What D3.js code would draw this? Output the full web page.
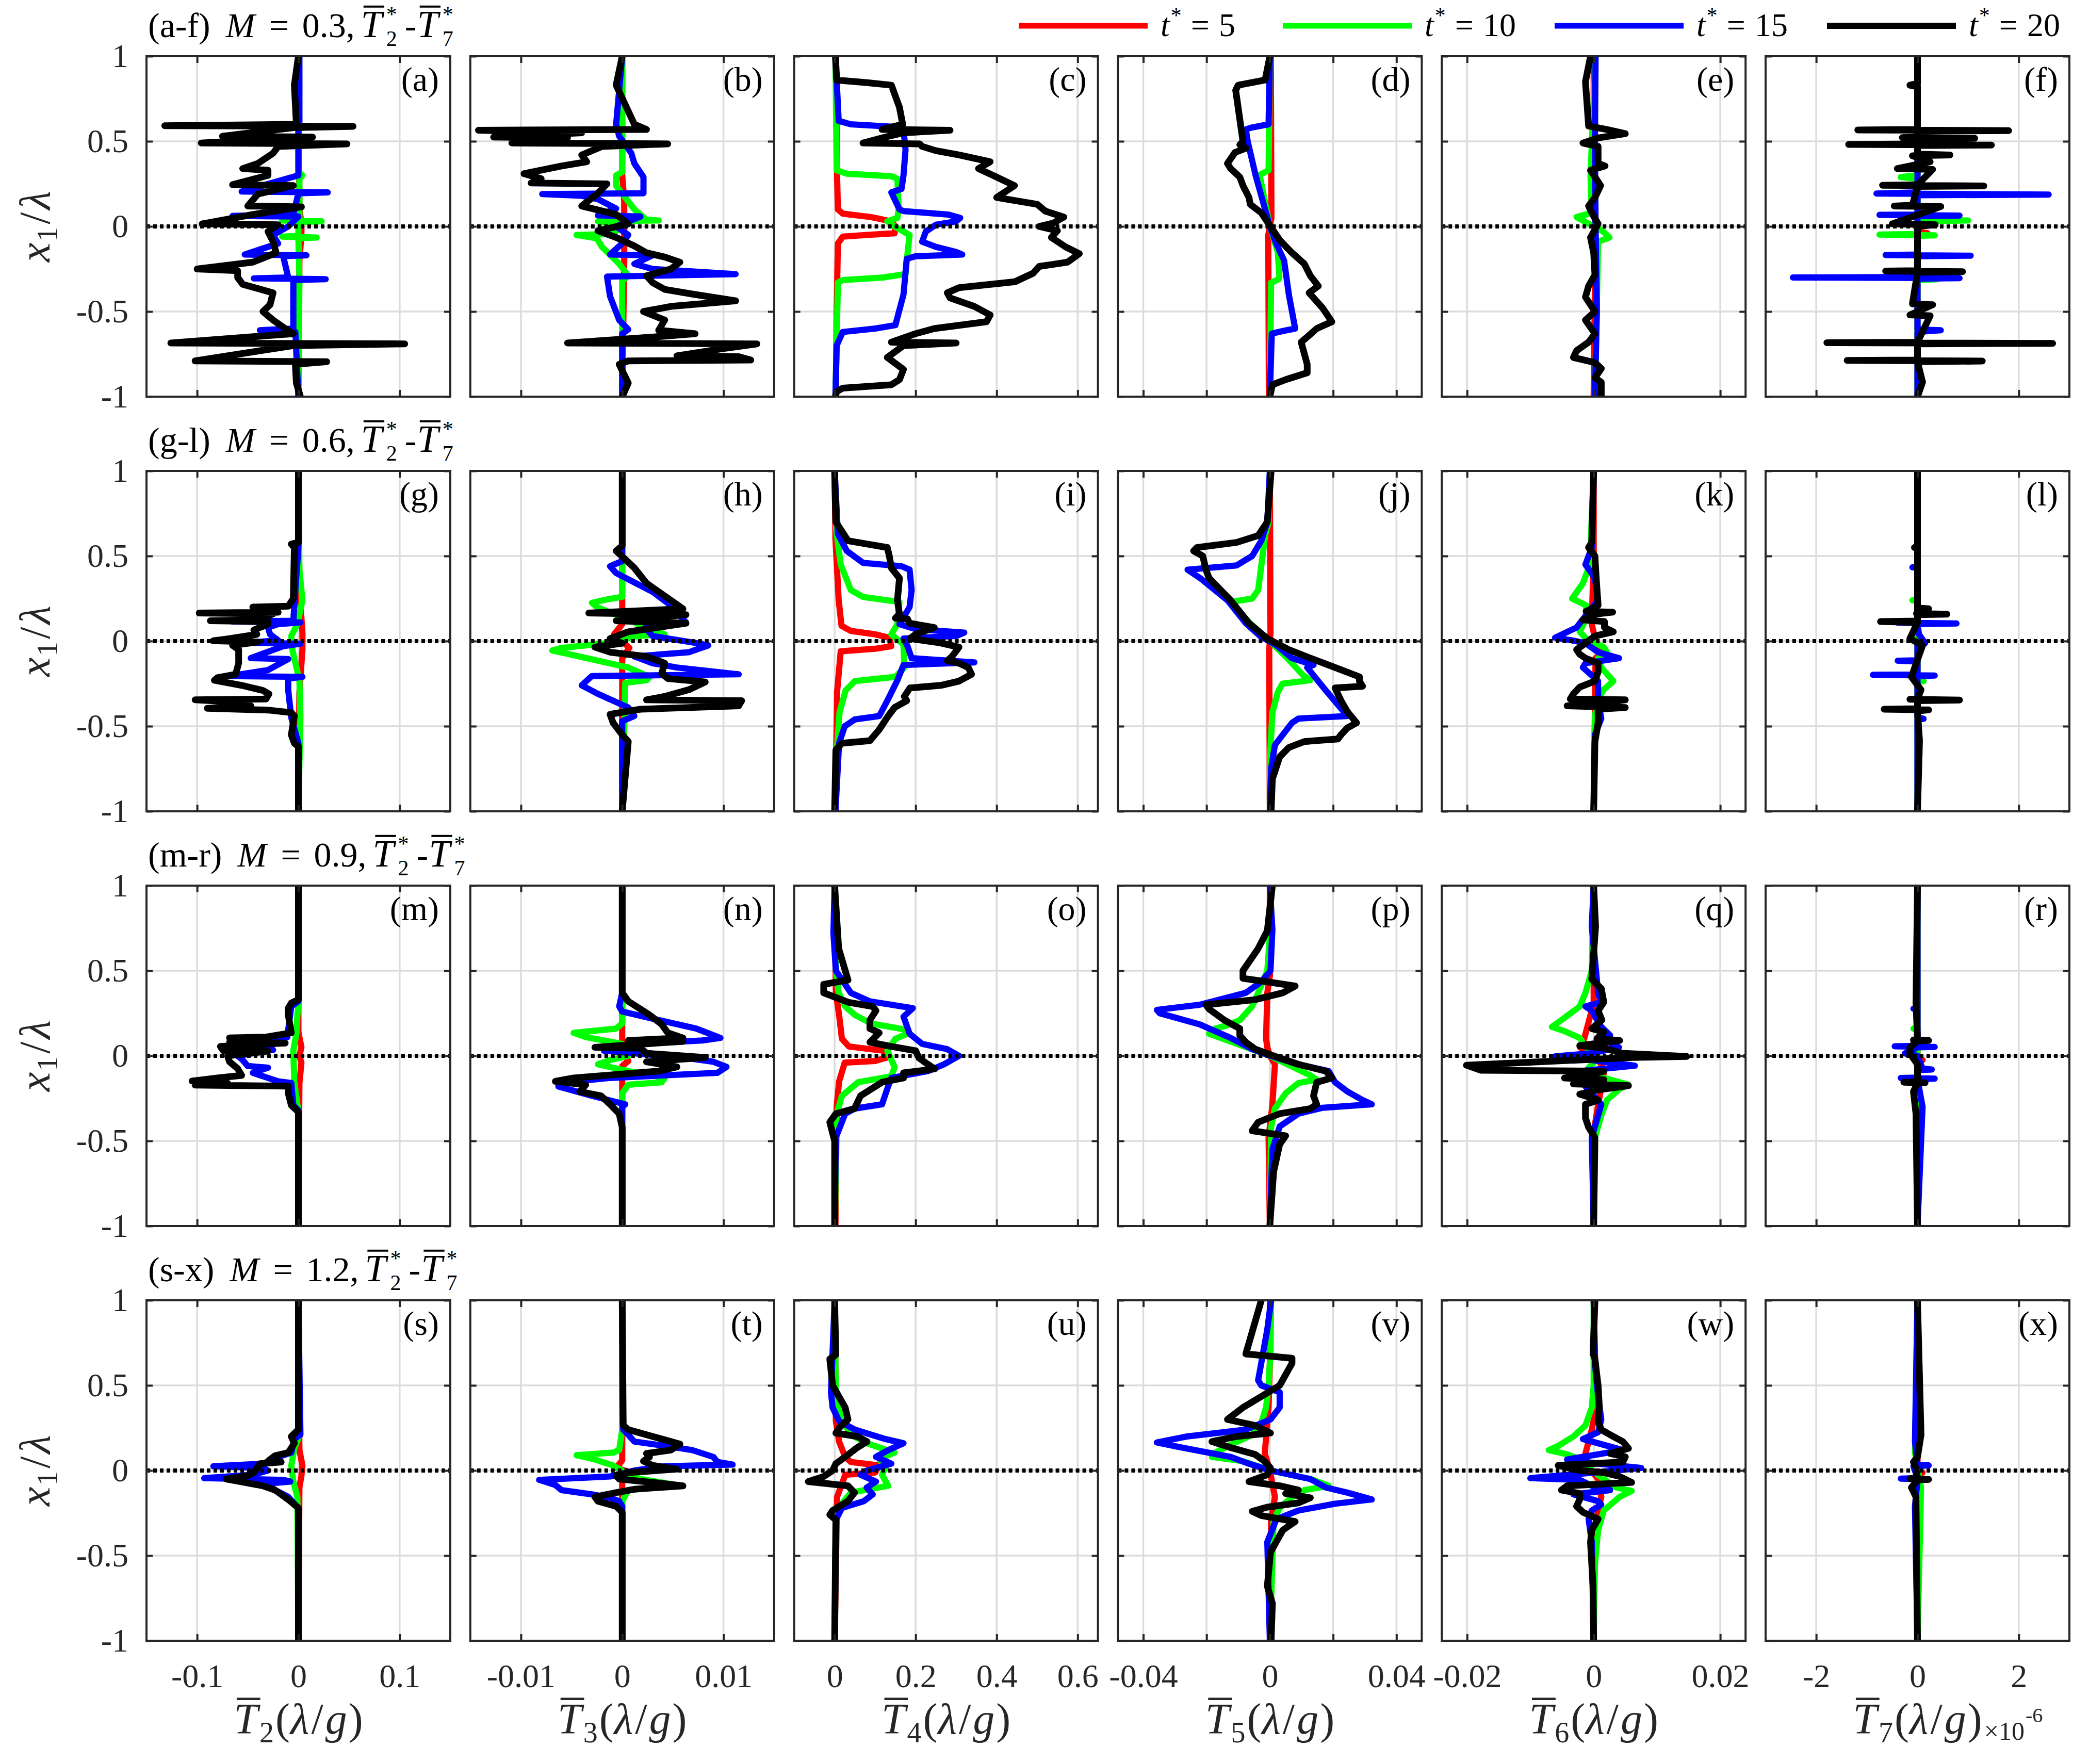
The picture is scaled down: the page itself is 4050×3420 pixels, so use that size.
<!DOCTYPE html>
<html><head><meta charset="utf-8">
<script src="https://cdn.jsdelivr.net/npm/d3@7"></script>
<style>
html,body{margin:0;padding:0;background:#fff;} svg{display:block;}
svg text { font-family: "Liberation Serif", "DejaVu Serif", serif; white-space: pre; }
</style>
</head><body>
<svg id="chart" width="4050" height="3420"></svg>
<script>
// ---------------- DATA ----------------
const seriesColors = ['#ff0000', '#00ff00', '#0000ff', '#000000'];
const seriesTimes = ['5', '10', '15', '20'];
const rowTags = ['(a-f)', '(g-l)', '(m-r)', '(s-x)'];
const rowMach = ['0.3', '0.6', '0.9', '1.2'];
const panelLetters = ['a','b','c','d','e','f','g','h','i','j','k','l','m','n','o','p','q','r','s','t','u','v','w','x'];
const colIndex = ['2', '3', '4', '5', '6', '7'];
const colDomains = [[-0.15, 0.15], [-0.015, 0.015], [-0.1, 0.65], [-0.048, 0.048], [-0.024, 0.024], [-3, 3]];
const colTicks = [[-0.1, 0, 0.1], [-0.01, 0, 0.01], [0, 0.2, 0.4, 0.6], [-0.04, -0.02, 0, 0.02, 0.04], [-0.02, 0, 0.02], [-2, 0, 2]];
const colTickLabels = [['-0.1', '0', '0.1'], ['-0.01', '0', '0.01'], ['0', '0.2', '0.4', '0.6'], ['-0.04', '', '0', '', '0.04'], ['-0.02', '0', '0.02'], ['-2', '0', '2']];
const yTicks = [-1, -0.5, 0, 0.5, 1];
const yTickLabels = ['-1', '-0.5', '0', '0.5', '1'];

// each panel: [red t*=5, green t*=10, blue t*=15, black t*=20]; points are [x1/lambda, value]
const P_a = [
 [[1,0],[0.1,0.001],[0.02,0.003],[-0.05,0.003],[-0.2,0.001],[-1,0]],
 [[1,0],[0.32,0],[0.3,0.004],[0.28,0.001],[0.04,0.001],[0.035,-0.016],[0.03,0.023],[0.025,0],[-0.055,0],[-0.06,-0.016],[-0.065,0.018],[-0.07,0],[-0.3,0.001],[-1,0]],
 [[1,0.001],[0.6,0.001],[0.595,-0.047],[0.59,0.011],[0.585,0],[0.3,0],[0.205,-0.056],[0.2,0.029],[0.195,0],[0.07,-0.005],[0.062,-0.065],[0.058,0],[0,-0.01],[-0.05,-0.025],[-0.1,-0.02],[-0.165,-0.053],[-0.17,0.008],[-0.175,-0.015],[-0.3,-0.01],[-0.305,-0.044],[-0.31,0.027],[-0.315,-0.005],[-0.6,-0.005],[-0.61,-0.038],[-0.62,-0.003],[-1,0]],
 [[1,0],[0.83,-0.004],[0.6,-0.002],[0.592,-0.132],[0.588,0.054],[0.58,-0.005],[0.53,-0.075],[0.525,0.014],[0.49,-0.096],[0.485,0.048],[0.47,-0.02],[0.43,-0.025],[0.37,-0.04],[0.34,-0.055],[0.33,-0.03],[0.3,-0.03],[0.245,-0.065],[0.24,-0.005],[0.19,-0.04],[0.12,-0.05],[0.115,0.003],[0.07,-0.045],[0.015,-0.095],[0.01,-0.02],[-0.03,-0.03],[-0.09,-0.025],[-0.155,-0.022],[-0.21,-0.045],[-0.25,-0.1],[-0.26,-0.06],[-0.3,-0.06],[-0.34,-0.055],[-0.39,-0.025],[-0.46,-0.028],[-0.5,-0.035],[-0.55,-0.025],[-0.6,-0.013],[-0.63,-0.005],[-0.685,-0.126],[-0.69,0.105],[-0.7,-0.005],[-0.79,-0.102],[-0.795,0.028],[-0.81,-0.003],[-0.92,-0.002],[-1,0.002]]
];
const P_b = [
 [[1,0],[0.3,0],[0.15,0.0002],[-0.2,0.0002],[-1,0]],
 [[1,0],[0.32,0],[0.3,-0.0006],[0.24,-0.0006],[0.1,0.0012],[0.04,0.0024],[0.035,0.0036],[0.03,-0.0024],[0,0],[-0.045,-0.001],[-0.05,-0.0045],[-0.07,-0.0025],[-0.12,-0.002],[-0.22,-0.0003],[-0.29,0.0006],[-0.32,0],[-1,0]],
 [[1,0],[0.6,-0.0006],[0.53,-0.0003],[0.43,0.0009],[0.37,0.0012],[0.29,0.0021],[0.21,0.0021],[0.195,0.0021],[0.19,-0.0079],[0.18,-0.004],[0.16,-0.0024],[0.105,-0.0006],[0.065,-0.0024],[0.058,0.0018],[0,-0.0006],[-0.05,0.0006],[-0.1,0],[-0.165,-0.0012],[-0.17,0.003],[-0.22,0.0012],[-0.25,0.003],[-0.28,0.0112],[-0.295,-0.0015],[-0.41,-0.0012],[-0.55,-0.0003],[-0.605,0.0006],[-0.63,0],[-1,0]],
 [[1,0],[0.83,-0.0006],[0.6,0.0012],[0.57,0.0024],[0.565,-0.0142],[0.55,-0.004],[0.525,-0.0127],[0.52,-0.0054],[0.49,-0.0109],[0.485,0.0045],[0.47,-0.002],[0.42,-0.004],[0.38,-0.0035],[0.355,-0.006],[0.31,-0.0097],[0.28,-0.008],[0.255,-0.009],[0.25,-0.0015],[0.19,-0.0025],[0.12,-0.004],[0.07,-0.0006],[0.015,0.0006],[-0.025,-0.0024],[-0.065,-0.0006],[-0.115,0.0012],[-0.155,0.0024],[-0.18,0.0042],[-0.21,0.0057],[-0.25,0.0048],[-0.29,0.0024],[-0.33,0.003],[-0.37,0.0042],[-0.4,0.0072],[-0.437,0.0112],[-0.47,0.0048],[-0.5,0.0021],[-0.55,0.0042],[-0.61,0.0036],[-0.63,0.0072],[-0.65,0.003],[-0.685,-0.0054],[-0.69,0.0133],[-0.72,0.0097],[-0.76,0.0054],[-0.765,0.0115],[-0.785,0.0127],[-0.79,0.0006],[-0.81,-0.0003],[-0.92,0.0006],[-1,0]]
];
const P_c = [
 [[1,0.003],[0.3,0.006],[0.1,0.008],[0.075,0.02],[0.055,0.09],[0.03,0.14],[0,0.15],[-0.04,0.148],[-0.05,0.08],[-0.06,0.02],[-0.1,0.008],[-0.5,0.005],[-1,0.003]],
 [[1,0.002],[0.33,0.005],[0.31,0.03],[0.295,0.14],[0.28,0.155],[0.1,0.158],[0.05,0.155],[0.03,0.13],[0,0.148],[-0.05,0.185],[-0.2,0.178],[-0.28,0.175],[-0.3,0.12],[-0.315,0.02],[-0.33,0.008],[-1,0.002]],
 [[1,0.002],[0.62,0.01],[0.6,0.04],[0.585,0.15],[0.57,0.17],[0.45,0.175],[0.3,0.17],[0.22,0.165],[0.2,0.14],[0.15,0.15],[0.1,0.16],[0.09,0.17],[0.07,0.28],[0.05,0.31],[0.03,0.3],[0.01,0.25],[-0.03,0.225],[-0.09,0.216],[-0.12,0.25],[-0.15,0.3],[-0.165,0.315],[-0.175,0.2],[-0.19,0.178],[-0.4,0.17],[-0.58,0.15],[-0.6,0.1],[-0.62,0.02],[-0.7,0.005],[-1,0.002]],
 [[1,0.002],[0.86,0.005],[0.845,0.08],[0.83,0.14],[0.7,0.16],[0.6,0.168],[0.57,0.117],[0.565,0.285],[0.55,0.17],[0.525,0.125],[0.49,0.07],[0.485,0.21],[0.47,0.216],[0.445,0.25],[0.42,0.307],[0.38,0.384],[0.34,0.355],[0.29,0.4],[0.24,0.444],[0.17,0.4],[0.13,0.5],[0.09,0.52],[0.055,0.566],[0.02,0.54],[0,0.505],[-0.025,0.55],[-0.065,0.535],[-0.12,0.57],[-0.16,0.604],[-0.21,0.575],[-0.235,0.505],[-0.275,0.49],[-0.325,0.445],[-0.36,0.307],[-0.39,0.278],[-0.42,0.285],[-0.47,0.345],[-0.52,0.384],[-0.56,0.375],[-0.6,0.246],[-0.63,0.2],[-0.68,0.14],[-0.685,0.3],[-0.7,0.17],[-0.77,0.13],[-0.84,0.17],[-0.9,0.16],[-0.93,0.14],[-0.95,0.02],[-0.97,0.005],[-1,0.002]]
];
const P_d = [
 [[1,0.0003],[0.05,0.0005],[0,0],[-0.05,-0.0005],[-1,-0.0003]],
 [[1,0],[0.33,-0.0004],[0.3,-0.0035],[0.28,-0.003],[0,0],[-0.15,0.0025],[-0.29,0.003],[-0.31,0.0028],[-0.33,0.0004],[-1,0]],
 [[1,0],[0.6,-0.0004],[0.58,-0.006],[0.57,-0.0076],[0.5,-0.007],[0.3,-0.0045],[0.1,-0.0015],[0,0],[-0.1,0.002],[-0.2,0.0045],[-0.4,0.006],[-0.6,0.008],[-0.615,0.004],[-0.63,0.0006],[-1,0]],
 [[1,0],[0.86,-0.0015],[0.83,-0.01],[0.8,-0.0108],[0.5,-0.0085],[0.48,-0.0095],[0.46,-0.0075],[0.435,-0.011],[0.37,-0.0134],[0.34,-0.0124],[0.29,-0.0095],[0.24,-0.0085],[0.17,-0.0066],[0.13,-0.0062],[0.08,-0.0027],[0,0.0002],[-0.08,0.0031],[-0.155,0.007],[-0.22,0.0109],[-0.29,0.0128],[-0.35,0.0153],[-0.39,0.0124],[-0.48,0.0167],[-0.56,0.0196],[-0.6,0.0148],[-0.64,0.0124],[-0.68,0.0099],[-0.81,0.0118],[-0.86,0.0118],[-0.9,0.005],[-0.93,0.0008],[-1,0]]
];
const P_e = [
 [[1,0],[0.1,0],[0,0.0003],[-1,0]],
 [[1,0.0003],[0.3,-0.0005],[0.08,-0.0003],[0.055,-0.0027],[0.03,-0.0015],[0,0],[-0.03,0.0015],[-0.065,0.0025],[-0.09,0.0007],[-1,0.0002]],
 [[1,0.0003],[0.5,0.0002],[0,0.0003],[-0.5,0.0005],[-1,0.0002]],
 [[1,-0.0005],[0.85,-0.0013],[0.59,-0.0008],[0.57,0.002],[0.545,0.005],[0.52,0.0007],[0.49,-0.0017],[0.47,0.0007],[0.37,0.0007],[0.355,0.0018],[0.33,-0.0005],[0.24,0.0011],[0.17,0.0002],[0.12,-0.0008],[0.08,-0.0003],[0.015,0.0007],[-0.065,-0.0005],[-0.155,0],[-0.285,0.0002],[-0.35,-0.0008],[-0.415,-0.0013],[-0.5,0.0002],[-0.55,-0.0013],[-0.63,0.0002],[-0.68,-0.0008],[-0.73,-0.0027],[-0.77,-0.0032],[-0.8,0.0002],[-0.835,0.0012],[-0.89,0.0002],[-0.915,0.0012],[-1,0.0012]]
];
const P_f = [
 [[1,0],[-0.03,0],[-0.04,0.2],[-0.05,0],[-1,0]],
 [[1,0],[0.3,0],[0.29,-0.33],[0.28,0],[0.04,0],[0.035,1.0],[0.03,0],[-0.045,0],[-0.048,-0.75],[-0.052,0.34],[-0.055,0],[-0.305,0],[-0.31,0.4],[-0.315,0],[-1,0]],
 [[1,0],[0.2,0],[0.193,-0.81],[0.187,2.59],[0.183,0],[0.07,0],[0.068,-0.75],[0.064,0.83],[0.06,0],[-0.165,0],[-0.168,-0.63],[-0.172,1.05],[-0.175,0],[-0.297,0],[-0.3,-2.46],[-0.304,0.83],[-0.307,0],[-0.605,0],[-0.61,0.46],[-0.62,0],[-1,0]],
 [[1,0],[0.84,0],[0.83,-0.15],[0.82,0],[0.57,0],[0.567,-1.18],[0.563,1.8],[0.56,0],[0.525,0],[0.522,-0.3],[0.518,1.13],[0.515,0],[0.485,0],[0.482,-1.36],[0.478,1.46],[0.475,0],[0.425,0],[0.42,0.64],[0.415,-0.1],[0.38,0.25],[0.34,-0.4],[0.335,0.3],[0.245,0],[0.242,-0.69],[0.238,1.31],[0.235,0],[0.125,-0.1],[0.12,-0.46],[0.117,0.46],[0.015,-0.5],[0.01,0.35],[0,0],[-0.26,0],[-0.262,-0.63],[-0.266,0.89],[-0.27,0],[-0.455,-0.1],[-0.46,0.3],[-0.52,-0.15],[-0.525,0.25],[-0.68,0],[-0.683,-1.79],[-0.687,2.67],[-0.69,0],[-0.785,0],[-0.787,-1.39],[-0.791,1.28],[-0.795,0],[-0.915,0.1],[-1,0]]
];
const P_g = [
 [[1,0],[0.3,0.001],[0.05,0.004],[-0.05,0.004],[-0.3,0.001],[-1,0]],
 [[1,0],[0.42,0.001],[0.24,0.004],[0.1,-0.001],[0.03,-0.007],[-0.05,-0.006],[-0.23,0.001],[-0.44,0.002],[-1,0]],
 [[1,0],[0.55,0],[0.3,-0.003],[0.12,-0.005],[0.115,-0.065],[0.11,0.002],[0.1,-0.02],[0.08,-0.03],[0.04,-0.028],[0.005,-0.02],[-0.01,-0.05],[-0.015,0.002],[-0.03,-0.015],[-0.1,-0.047],[-0.105,-0.01],[-0.17,-0.03],[-0.205,-0.068],[-0.21,0.004],[-0.22,-0.01],[-0.29,-0.01],[-0.45,-0.007],[-0.6,0],[-1,0]],
 [[1,0],[0.58,0],[0.57,-0.007],[0.55,-0.004],[0.25,-0.005],[0.205,-0.01],[0.2,-0.045],[0.17,-0.02],[0.165,-0.098],[0.16,-0.025],[0.125,-0.04],[0.12,-0.087],[0.115,-0.03],[0.1,-0.03],[0.065,-0.044],[0.04,-0.041],[0.015,-0.068],[0.002,-0.084],[-0.005,-0.04],[-0.025,-0.065],[-0.05,-0.059],[-0.13,-0.059],[-0.195,-0.062],[-0.215,-0.08],[-0.23,-0.083],[-0.26,-0.056],[-0.29,-0.035],[-0.31,-0.029],[-0.34,-0.032],[-0.345,-0.102],[-0.36,-0.056],[-0.38,-0.047],[-0.395,-0.09],[-0.405,-0.03],[-0.42,-0.007],[-0.44,-0.004],[-0.55,-0.007],[-0.6,-0.004],[-0.62,0],[-1,0]]
];
const P_h = [
 [[1,0],[0.1,0],[0.04,-0.0008],[0,0],[-0.04,0.0007],[-0.1,0],[-1,0]],
 [[1,0],[0.26,0],[0.245,-0.0015],[0.225,-0.003],[0.2,-0.0025],[0.14,0],[0.08,0.0024],[0.04,0.0042],[0.03,0.0015],[-0.01,-0.0012],[-0.04,-0.006],[-0.055,-0.0069],[-0.08,-0.005],[-0.155,0.0006],[-0.21,0.0027],[-0.23,0.0024],[-0.245,0.0003],[-1,0]],
 [[1,0],[0.47,0],[0.44,-0.0012],[0.4,-0.0006],[0.29,0.003],[0.21,0.0048],[0.11,0.0063],[0.1,0.0024],[0.07,0.0024],[0.03,0.003],[-0.01,0.0072],[-0.025,0.0085],[-0.065,0.0066],[-0.09,0.0012],[-0.13,0.003],[-0.155,0.0054],[-0.195,0.0115],[-0.205,-0.003],[-0.26,-0.004],[-0.31,-0.0024],[-0.39,0.0006],[-0.44,0.0012],[-0.47,0],[-1,0]],
 [[1,0],[0.56,0],[0.53,-0.0006],[0.43,0.0012],[0.34,0.0024],[0.24,0.0048],[0.19,0.006],[0.165,-0.0033],[0.155,0.0063],[0.12,-0.0006],[0.105,0.0063],[0.055,0.0006],[0.015,-0.0012],[-0.012,0],[-0.035,-0.0027],[-0.065,-0.0012],[-0.09,0.0024],[-0.13,0.0042],[-0.19,0.0039],[-0.22,0.0045],[-0.24,0.0082],[-0.285,0.0066],[-0.325,0.0042],[-0.345,0.0024],[-0.35,0.0118],[-0.38,0.0115],[-0.4,0.0018],[-0.43,-0.0012],[-0.48,-0.0009],[-0.55,0],[-0.59,0.0006],[-1,0]]
];
const P_i = [
 [[1,0],[0.6,0.002],[0.24,0.01],[0.09,0.017],[0.06,0.04],[0.04,0.1],[0.02,0.135],[-0.03,0.14],[-0.045,0.1],[-0.06,0.015],[-0.3,0.006],[-1,0.002]],
 [[1,0],[0.65,0.004],[0.45,0.015],[0.3,0.04],[0.26,0.07],[0.23,0.16],[0.1,0.155],[0.04,0.14],[-0.02,0.17],[-0.155,0.172],[-0.21,0.15],[-0.235,0.05],[-0.29,0.027],[-0.42,0.012],[-0.7,0.004],[-1,0.002]],
 [[1,0],[0.63,0.008],[0.53,0.03],[0.46,0.07],[0.44,0.165],[0.42,0.185],[0.3,0.19],[0.2,0.185],[0.1,0.16],[0.07,0.2],[0.05,0.32],[0.03,0.3],[0.015,0.17],[-0.03,0.18],[-0.1,0.19],[-0.125,0.345],[-0.14,0.17],[-0.23,0.155],[-0.35,0.13],[-0.44,0.11],[-0.46,0.05],[-0.5,0.025],[-0.6,0.011],[-1,0.002]],
 [[1,0],[0.7,0.003],[0.59,0.033],[0.565,0.094],[0.55,0.13],[0.5,0.135],[0.43,0.14],[0.37,0.16],[0.24,0.155],[0.16,0.16],[0.135,0.15],[0.13,0.18],[0.105,0.185],[0.08,0.246],[0.04,0.2],[0.015,0.186],[-0.01,0.26],[-0.035,0.307],[-0.09,0.29],[-0.115,0.278],[-0.13,0.307],[-0.155,0.33],[-0.195,0.338],[-0.235,0.307],[-0.26,0.262],[-0.275,0.186],[-0.325,0.172],[-0.35,0.178],[-0.39,0.148],[-0.44,0.132],[-0.52,0.11],[-0.585,0.087],[-0.6,0.018],[-0.64,0.003],[-1,0]]
];
const P_j = [
 [[1,0],[0.05,0.0002],[-0.05,-0.0002],[-1,0]],
 [[1,0],[0.7,-0.0004],[0.63,-0.0014],[0.5,-0.0023],[0.3,-0.0037],[0.25,-0.0056],[0.23,-0.0124],[0.1,-0.006],[0,0],[-0.1,0.0055],[-0.2,0.0105],[-0.23,0.0128],[-0.25,0.004],[-0.3,0.0025],[-0.42,0.0008],[-0.7,0],[-1,0]],
 [[1,0],[0.7,-0.0008],[0.59,-0.0027],[0.5,-0.0056],[0.445,-0.0105],[0.42,-0.026],[0.37,-0.022],[0.24,-0.0134],[0.105,-0.0076],[0.03,-0.0031],[-0.025,0.0021],[-0.1,0.007],[-0.14,0.0138],[-0.155,0.0118],[-0.29,0.0177],[-0.44,0.0245],[-0.455,0.009],[-0.48,0.007],[-0.61,0.0016],[-0.75,0.0004],[-1,0]],
 [[1,0.0004],[0.7,-0.0008],[0.62,-0.0037],[0.58,-0.0105],[0.55,-0.023],[0.53,-0.0241],[0.5,-0.0212],[0.42,-0.0202],[0.37,-0.0192],[0.24,-0.0124],[0.105,-0.0066],[0.015,-0.0008],[-0.05,0.006],[-0.1,0.0128],[-0.155,0.0206],[-0.21,0.0283],[-0.235,0.0283],[-0.265,0.0293],[-0.275,0.0206],[-0.35,0.0225],[-0.415,0.0245],[-0.48,0.0274],[-0.51,0.0245],[-0.55,0.0225],[-0.575,0.0215],[-0.59,0.0109],[-0.625,0.006],[-0.68,0.0031],[-0.81,0.0008],[-1,0.0004]]
];
const P_k = [
 [[1,0],[0.5,0],[0.1,-0.0003],[-0.03,0.0005],[-0.06,0.0016],[-0.1,0.0003],[-1,0]],
 [[1,0],[0.45,-0.0006],[0.34,-0.0017],[0.25,-0.0034],[0.21,-0.0012],[0.13,-0.0012],[0.055,-0.0022],[0.015,-0.0012],[-0.035,0.0016],[-0.065,0.0021],[-0.1,0.0007],[-0.155,0.0012],[-0.235,0.0031],[-0.285,0.0016],[-0.34,0.0007],[-0.44,0.0002],[-1,0]],
 [[1,0],[0.55,-0.0003],[0.45,-0.0013],[0.37,0.0002],[0.24,0.0007],[0.105,-0.0022],[0.08,-0.0027],[0.02,-0.0061],[0.005,-0.0035],[-0.012,-0.0013],[-0.065,0.0007],[-0.1,0.004],[-0.13,-0.0013],[-0.155,-0.0017],[-0.235,0.0007],[-0.35,0.0007],[-0.455,0.0012],[-0.55,0.0002],[-1,0]],
 [[1,0],[0.58,-0.0003],[0.55,-0.0008],[0.5,0.0002],[0.37,0.0004],[0.21,0.0007],[0.175,-0.0012],[0.17,0.003],[0.16,0.0005],[0.125,-0.0017],[0.115,0.0017],[0.08,0.0017],[0.055,0.0031],[0.03,0.0002],[-0.012,-0.0013],[-0.05,-0.0027],[-0.077,-0.0022],[-0.1,-0.0013],[-0.13,0.0007],[-0.18,0.0007],[-0.235,0.0002],[-0.27,-0.0022],[-0.31,-0.0032],[-0.34,-0.0037],[-0.345,0.005],[-0.36,0.002],[-0.38,-0.0042],[-0.39,0.005],[-0.4,0.0007],[-0.48,0.0007],[-0.59,0.0002],[-1,0]]
];
const P_l = [
 [[1,0],[-1,0]],
 [[1,0],[0.245,0],[0.24,-0.1],[0.235,0],[-0.23,0],[-0.234,0.12],[-0.24,0],[-1,0]],
 [[1,0],[0.44,0],[0.434,-0.1],[0.43,0],[0.11,0],[0.108,-0.39],[0.104,0.77],[0.1,0],[0.04,0.03],[-0.012,0.15],[-0.02,0],[-0.113,0],[-0.115,-0.39],[-0.12,0],[-0.196,0],[-0.198,-0.88],[-0.202,0.34],[-0.205,0],[-0.45,0],[-0.456,0.12],[-0.46,0],[-1,0]],
 [[1,0],[0.555,0],[0.55,-0.06],[0.545,0],[0.195,0],[0.19,0.22],[0.185,0],[0.165,0],[0.162,-0.02],[0.158,0.58],[0.155,0],[0.118,0],[0.115,-0.73],[0.11,0],[0.015,-0.15],[-0.025,0.1],[-0.21,-0.12],[-0.286,0.07],[-0.34,0],[-0.342,-0.15],[-0.346,0.83],[-0.35,0],[-0.397,0],[-0.4,-0.66],[-0.404,0.22],[-0.41,0],[-0.585,0.04],[-1,0]]
];
const P_m = [
 [[1,0],[0.14,0],[0.05,0.003],[0,0.001],[-0.04,0.003],[-0.16,0.001],[-1,0]],
 [[1,0],[0.3,0],[0.24,-0.001],[0.13,-0.002],[0.03,-0.005],[-0.155,-0.004],[-0.29,-0.001],[-0.32,0],[-1,0]],
 [[1,0],[0.32,0],[0.29,-0.007],[0.11,-0.011],[0.09,-0.04],[0.08,-0.035],[0.04,-0.045],[0.035,-0.025],[0,-0.06],[-0.025,-0.055],[-0.06,-0.05],[-0.07,-0.03],[-0.1,-0.045],[-0.13,-0.03],[-0.15,-0.02],[-0.16,-0.007],[-0.29,-0.005],[-0.32,0],[-1,0]],
 [[1,0],[0.33,0],[0.31,-0.007],[0.28,-0.01],[0.24,-0.01],[0.135,-0.007],[0.11,-0.032],[0.105,-0.068],[0.09,-0.035],[0.08,-0.068],[0.075,-0.013],[0.055,-0.077],[0.03,-0.074],[0.028,-0.03],[0,-0.07],[-0.035,-0.068],[-0.075,-0.06],[-0.115,-0.056],[-0.13,-0.08],[-0.148,-0.105],[-0.16,-0.07],[-0.172,-0.102],[-0.178,-0.01],[-0.22,-0.01],[-0.29,-0.007],[-0.33,0],[-1,0]]
];
const P_n = [
 [[1,0],[0.05,0],[0,0.0003],[-0.03,0.0006],[-0.06,0],[-1,0]],
 [[1,0],[0.19,0],[0.16,-0.0006],[0.135,-0.0048],[0.11,-0.0036],[0.07,0],[0,0.0006],[-0.025,-0.0012],[-0.05,-0.0024],[-0.09,0.0006],[-0.13,0.0042],[-0.155,0.0039],[-0.17,0.0006],[-0.22,0],[-1,0]],
 [[1,0],[0.37,0],[0.29,-0.0003],[0.26,0],[0.21,0.0036],[0.16,0.0073],[0.105,0.0097],[0.09,0.0079],[0.07,0.0012],[0.055,0],[0.03,-0.0018],[-0.01,0.006],[-0.035,0.009],[-0.065,0.0103],[-0.1,0.0094],[-0.13,-0.0012],[-0.155,-0.0054],[-0.18,-0.0063],[-0.235,-0.003],[-0.285,0.0003],[-0.3,0],[-1,0]],
 [[1,0],[0.37,0],[0.32,0.0006],[0.24,0.0027],[0.185,0.0039],[0.135,0.0045],[0.105,0.006],[0.09,0.0006],[0.085,0.006],[0.05,-0.0027],[0.045,0.0018],[0.015,0.0024],[-0.01,0.0082],[-0.035,0.0024],[-0.065,0.0054],[-0.09,0.0036],[-0.13,-0.0048],[-0.15,-0.0066],[-0.17,-0.0036],[-0.21,-0.0042],[-0.235,-0.0021],[-0.285,-0.0012],[-0.34,-0.0003],[-0.42,0],[-1,0]]
];
const P_o = [
 [[1,0],[0.37,0.003],[0.24,0.011],[0.1,0.018],[0.055,0.035],[0.03,0.12],[-0.01,0.13],[-0.03,0.1],[-0.04,0.025],[-0.15,0.011],[-0.3,0.005],[-1,0.002]],
 [[1,0],[0.5,0.003],[0.37,0.01],[0.29,0.026],[0.24,0.05],[0.19,0.09],[0.165,0.15],[0.15,0.18],[0.13,0.18],[0.1,0.15],[0.03,0.13],[-0.065,0.148],[-0.12,0.14],[-0.155,0.058],[-0.235,0.018],[-0.35,0.004],[-1,0.001]],
 [[1,0],[0.72,-0.003],[0.5,0.003],[0.37,0.04],[0.32,0.087],[0.28,0.193],[0.23,0.17],[0.13,0.185],[0.07,0.216],[0.04,0.277],[0,0.307],[-0.05,0.27],[-0.09,0.23],[-0.13,0.14],[-0.18,0.132],[-0.285,0.117],[-0.31,0.05],[-0.34,0.026],[-0.48,0.003],[-1,0]],
 [[1,0],[0.63,0.01],[0.445,0.033],[0.42,-0.027],[0.37,-0.027],[0.315,0.033],[0.29,0.094],[0.265,0.102],[0.21,0.087],[0.16,0.087],[0.135,0.11],[0.08,0.087],[0.055,0.14],[0.03,0.2],[-0.012,0.208],[-0.05,0.23],[-0.077,0.247],[-0.1,0.17],[-0.13,0.17],[-0.155,0.117],[-0.235,0.064],[-0.31,0.049],[-0.34,0.003],[-0.39,-0.012],[-0.455,-0.005],[-0.5,0],[-1,0]]
];
const P_p = [
 [[1,0],[0.47,0],[0.37,-0.0008],[0.1,-0.0012],[0.05,-0.0008],[0,0],[-0.05,0.0016],[-0.29,0.0008],[-0.48,-0.0004],[-1,0]],
 [[1,0],[0.76,0.0002],[0.5,-0.0008],[0.37,-0.0037],[0.29,-0.0056],[0.21,-0.0095],[0.18,-0.0134],[0.16,-0.0173],[0.13,-0.0192],[0,0],[-0.115,0.0128],[-0.14,0.0148],[-0.16,0.009],[-0.22,0.005],[-0.31,0.0016],[-0.42,0.0004],[-1,0]],
 [[1,0],[0.74,0.0008],[0.5,0.0002],[0.435,-0.0027],[0.37,-0.0076],[0.3,-0.0222],[0.27,-0.0357],[0.25,-0.0348],[0.185,-0.0222],[0.105,-0.0124],[0.04,-0.0056],[0,0.0002],[-0.05,0.0089],[-0.09,0.0186],[-0.155,0.0206],[-0.21,0.0245],[-0.26,0.0293],[-0.285,0.0322],[-0.305,0.0167],[-0.34,0.009],[-0.415,0.0031],[-0.55,0.0008],[-1,0]],
 [[1,0.0008],[0.735,-0.0008],[0.63,-0.0037],[0.5,-0.0085],[0.455,-0.0085],[0.435,-0.0008],[0.41,0.008],[0.37,0.0041],[0.33,-0.0047],[0.3,-0.0202],[0.275,-0.0192],[0.21,-0.0144],[0.16,-0.0095],[0.12,-0.0095],[0.08,-0.0076],[0.04,-0.0047],[0,0.0012],[-0.05,0.009],[-0.09,0.0177],[-0.13,0.0196],[-0.155,0.0148],[-0.235,0.0138],[-0.285,0.0148],[-0.31,0.0128],[-0.34,0.0031],[-0.39,-0.0037],[-0.44,-0.0056],[-0.47,0.005],[-0.52,0.0031],[-0.68,0.0012],[-0.94,0.0002],[-1,0]]
];
const P_q = [
 [[1,0],[0.3,0],[0.24,-0.0005],[0.1,-0.0015],[0.05,-0.0022],[0,0],[-0.05,0.0012],[-0.1,0.0016],[-0.29,0.0007],[-0.45,0],[-1,0]],
 [[1,0],[0.5,-0.0003],[0.37,-0.0013],[0.29,-0.0022],[0.21,-0.0051],[0.17,-0.0066],[0.145,-0.0046],[0.105,-0.0022],[0.055,-0.0013],[-0.012,0.0007],[-0.09,-0.0013],[-0.13,0.0016],[-0.17,0.0055],[-0.195,0.0041],[-0.26,0.0021],[-0.35,0.0012],[-0.48,0.0002],[-1,0]],
 [[1,0],[0.76,-0.0003],[0.37,0.0007],[0.315,0.0012],[0.29,-0.0013],[0.265,-0.0003],[0.17,0.0012],[0.12,0.0026],[0.095,0.0016],[0.05,0.004],[0.015,-0.0003],[-0.003,-0.0061],[-0.025,-0.0003],[-0.058,0.0065],[-0.09,-0.0022],[-0.12,-0.0022],[-0.18,-0.0013],[-0.285,0.0012],[-0.48,-0.0003],[-1,0]],
 [[1,0],[0.76,0.0003],[0.45,-0.0003],[0.395,0.0012],[0.315,0.0016],[0.265,0.0007],[0.21,0.0013],[0.16,-0.0003],[0.14,0.0016],[0.1,0.0005],[0.09,0.0041],[0.06,-0.0022],[0.045,0.0017],[0.015,0.0045],[-0.004,0.0147],[-0.01,0.006],[-0.055,-0.0201],[-0.085,-0.0178],[-0.09,0.0016],[-0.1,0.0007],[-0.13,-0.0046],[-0.14,0.0016],[-0.165,-0.0032],[-0.175,0.0055],[-0.2,0.0007],[-0.225,-0.0022],[-0.26,0.0007],[-0.285,-0.0013],[-0.365,-0.0013],[-0.42,-0.0008],[-0.48,0.0002],[-1,0]]
];
const P_r = [
 [[1,0],[-0.02,0],[-0.025,0.1],[-0.03,0],[-1,0]],
 [[1,0],[0.165,0],[0.16,-0.08],[0.155,0],[-1,0]],
 [[1,0],[0.28,0],[0.277,-0.08],[0.273,0],[0.058,0],[0.056,-0.45],[0.052,0.34],[0.05,0],[0.014,-0.25],[0,0],[-0.075,0.1],[-0.08,0.28],[-0.085,0],[-0.128,0],[-0.13,-0.33],[-0.134,0.34],[-0.137,0],[-0.3,0.1],[-1,0]],
 [[1,0],[0.31,-0.03],[0.095,0],[0.093,-0.08],[0.09,0.22],[0.087,0],[0.05,-0.15],[0.014,-0.15],[-0.05,0],[-0.152,0],[-0.155,-0.27],[-0.158,0.15],[-0.16,0],[-0.21,-0.08],[-0.34,-0.03],[-1,0]]
];
const P_s = [
 [[1,0],[0.12,0.001],[0.03,0.004],[-0.03,0.003],[-0.1,0.001],[-1,0]],
 [[1,0],[0.19,0],[0.13,-0.004],[0.03,-0.007],[-0.065,-0.005],[-0.155,-0.001],[-1,0]],
 [[1,0],[0.21,0.002],[0.185,-0.004],[0.105,-0.007],[0.08,-0.02],[0.04,-0.035],[0.025,-0.084],[0.015,-0.035],[0,-0.03],[-0.025,-0.045],[-0.045,-0.093],[-0.055,-0.015],[-0.065,-0.008],[-0.077,-0.032],[-0.115,-0.023],[-0.155,-0.01],[-0.195,-0.004],[-0.22,0],[-1,0]],
 [[1,0],[0.24,0],[0.2,-0.007],[0.16,-0.004],[0.105,-0.01],[0.087,-0.023],[0.06,-0.029],[0.05,-0.017],[0.04,-0.038],[0.015,-0.041],[-0.012,-0.044],[-0.03,-0.05],[-0.05,-0.071],[-0.07,-0.053],[-0.09,-0.035],[-0.115,-0.023],[-0.14,-0.017],[-0.18,-0.008],[-0.22,0],[-1,0]]
];
const P_t = [
 [[1,0],[0.06,0],[0.015,-0.0006],[-0.012,0.0009],[-0.05,0],[-1,0]],
 [[1,0],[0.24,0],[0.12,-0.0003],[0.105,-0.0009],[0.09,-0.0045],[0.07,-0.003],[0.03,-0.0009],[-0.012,0.0003],[-0.05,0.0018],[-0.085,0.0054],[-0.115,0.0006],[-0.18,0],[-1,0]],
 [[1,0],[0.24,0.0001],[0.21,0.0006],[0.17,0.0012],[0.145,0.0042],[0.12,0.0069],[0.08,0.009],[0.05,0.0094],[0.035,0.0109],[0.025,0.0042],[0,0.0012],[-0.035,-0.0012],[-0.055,-0.0082],[-0.085,-0.0066],[-0.115,-0.006],[-0.14,-0.003],[-0.16,-0.0012],[-0.18,-0.0003],[-0.21,0],[-1,0]],
 [[1,0],[0.265,0.0001],[0.24,0.0006],[0.2,0.003],[0.155,0.0057],[0.12,0.0048],[0.1,0.0024],[0.08,0.0027],[0.055,0.0021],[0.03,0.003],[0.008,0.0054],[-0.012,0.0006],[-0.03,-0.0006],[-0.05,-0.0003],[-0.07,0.003],[-0.09,0.006],[-0.11,0.0012],[-0.13,-0.0006],[-0.155,-0.0027],[-0.18,-0.0024],[-0.21,-0.0006],[-0.245,0],[-1,0]]
];
const P_u = [
 [[1,0],[0.29,0.003],[0.17,0.011],[0.08,0.026],[0.05,0.04],[0.03,0.11],[-0.012,0.1],[-0.025,0.026],[-0.08,0.018],[-0.155,0.006],[-1,0]],
 [[1,0],[0.43,0.003],[0.3,0.018],[0.21,0.04],[0.16,0.08],[0.105,0.148],[0.07,0.11],[0.015,0.125],[-0.025,0.117],[-0.09,0.132],[-0.13,0.04],[-0.195,0.018],[-0.29,0.003],[-1,0]],
 [[1,0],[0.46,-0.009],[0.37,-0.005],[0.29,0.011],[0.24,0.05],[0.185,0.125],[0.16,0.17],[0.12,0.132],[0.08,0.102],[0.04,0.14],[0,0.079],[-0.025,0.064],[-0.065,0.102],[-0.1,0.079],[-0.14,0.094],[-0.18,0.072],[-0.22,0.018],[-0.29,0.003],[-1,0]],
 [[1,0],[0.68,0.003],[0.655,-0.012],[0.5,-0.005],[0.37,0.026],[0.3,0.033],[0.25,0.011],[0.22,0.003],[0.2,0.056],[0.17,0.08],[0.135,0.056],[0.08,0.026],[0.04,0.003],[0,-0.005],[-0.035,-0.027],[-0.065,-0.065],[-0.09,0.033],[-0.13,0.049],[-0.18,0.033],[-0.235,-0.005],[-0.26,-0.012],[-0.29,0.003],[-1,0]]
];
const P_v = [
 [[1,0],[0.63,0],[0.37,-0.0004],[0.1,-0.0016],[0,0],[-0.155,0.0016],[-0.29,0.0004],[-1,0]],
 [[1,0.0004],[0.7,0.0002],[0.5,-0.0004],[0.37,-0.0012],[0.28,-0.0027],[0.21,-0.0056],[0.16,-0.0114],[0.105,-0.0173],[0.08,-0.0183],[0.055,-0.0085],[0,0.0002],[-0.05,0.0128],[-0.09,0.0186],[-0.115,0.0109],[-0.155,0.007],[-0.22,0.0031],[-0.29,0.0012],[-1,0]],
 [[1,0.0004],[0.83,-0.0008],[0.53,-0.0037],[0.5,-0.0027],[0.46,0.0031],[0.37,0.0031],[0.3,0.0002],[0.24,-0.0076],[0.2,-0.0262],[0.165,-0.0357],[0.135,-0.0279],[0.08,-0.0124],[0.04,-0.0066],[0,0.0002],[-0.05,0.0128],[-0.1,0.0177],[-0.13,0.0245],[-0.17,0.0322],[-0.195,0.0206],[-0.235,0.009],[-0.285,0.0021],[-0.42,-0.0008],[-1,0]],
 [[1,-0.0027],[0.685,-0.0076],[0.66,0.007],[0.63,0.007],[0.5,0.0031],[0.435,-0.0027],[0.37,-0.0085],[0.3,-0.0134],[0.265,-0.0047],[0.22,0.0002],[0.2,-0.0105],[0.17,-0.0183],[0.135,-0.0124],[0.095,-0.0047],[0.055,-0.0017],[0.015,0.0002],[-0.025,-0.0008],[-0.065,-0.0066],[-0.09,0.0031],[-0.115,0.009],[-0.135,0.005],[-0.16,0.0128],[-0.19,0.009],[-0.215,-0.0008],[-0.24,-0.0056],[-0.265,-0.0027],[-0.3,0.008],[-0.35,0.0041],[-0.48,0.0002],[-0.68,-0.0008],[-0.78,0.0008],[-1,0.0004]]
];
const P_w = [
 [[1,0],[0.37,0.0004],[0.24,-0.0003],[0.1,-0.0013],[0.03,-0.001],[-0.05,0.0007],[-0.155,0.0012],[-0.235,0.0007],[-0.4,0],[-1,0]],
 [[1,0],[0.5,0],[0.37,-0.0003],[0.265,-0.0013],[0.2,-0.0032],[0.145,-0.0056],[0.12,-0.0071],[0.095,-0.0042],[0.055,-0.0013],[0,-0.0003],[-0.05,0.0016],[-0.1,0.0036],[-0.12,0.006],[-0.155,0.0041],[-0.235,0.0016],[-0.35,0.0007],[-0.55,0.0002],[-1,0]],
 [[1,0],[0.63,0.0002],[0.435,0.0007],[0.3,0.0012],[0.225,0.0007],[0.185,-0.0017],[0.155,0.0012],[0.12,0.0046],[0.095,0.0007],[0.065,-0.0042],[0.04,0.0007],[0.015,0.0075],[-0.01,0.0007],[-0.045,-0.01],[-0.055,-0.0022],[-0.09,-0.0003],[-0.115,0.0026],[-0.14,-0.0032],[-0.18,0.0007],[-0.2,0.0012],[-0.235,-0.0003],[-0.285,-0.0008],[-0.42,-0.0003],[-1,0]],
 [[1,0.0002],[0.685,-0.0001],[0.655,0.0002],[0.5,0.0007],[0.37,0.0009],[0.29,0.0007],[0.24,0.0012],[0.21,0.0026],[0.17,0.0046],[0.13,0.0055],[0.1,0.0026],[0.08,0.005],[0.05,0.0046],[0.03,-0.0056],[0,-0.0022],[-0.012,0.0016],[-0.035,0.0041],[-0.07,0.006],[-0.09,-0.0042],[-0.115,-0.0051],[-0.135,-0.0022],[-0.17,-0.0022],[-0.21,-0.0027],[-0.245,-0.0017],[-0.285,0.0007],[-0.35,-0.0003],[-0.42,-0.0005],[-0.68,-0.0001],[-1,0]]
];
const P_x = [
 [[1,0],[-0.01,0],[-0.012,0.1],[-0.015,0],[-1,0]],
 [[1,0],[0.106,-0.05],[-0.1,0.07],[-1,0]],
 [[1,0],[0.17,-0.05],[0.035,0],[0.03,0.22],[0.025,-0.08],[-0.045,0],[-0.048,-0.33],[-0.052,0.22],[-0.055,0],[-0.21,-0.05],[-1,0]],
 [[1,0],[0.21,0.07],[0.08,0],[0.05,-0.08],[0.014,-0.03],[-0.045,0],[-0.048,-0.15],[-0.052,0.22],[-0.055,0],[-0.1,-0.12],[-0.155,-0.03],[-1,0]]
];
const panels = [P_a,P_b,P_c,P_d,P_e,P_f,P_g,P_h,P_i,P_j,P_k,P_l,P_m,P_n,P_o,P_p,P_q,P_r,P_s,P_t,P_u,P_v,P_w,P_x];

// ---------------- DRAWING ----------------
const W = 4050, H = 3420;
const AX = '#262626';
const L = {left: 284, colStep: 627.8, top: 109, rowStep: 804, pw: 589, ph: 660};

const svg = d3.select('#chart');
svg.append('rect').attr('width', W).attr('height', H).attr('fill', '#fff');
const defs = svg.append('defs');

// rich text helper: runs of {t, it, size, shift, dx, at, over, stack}
function rich(parent, runs, x, y, anchor, color) {
  const g = parent.append('g');
  let cx = 0, stackStart = null, stackW = 0;
  runs.forEach(r => {
    const px = r.at !== undefined ? r.at : cx + (r.dx || 0);
    const t = g.append('text').attr('x', px).attr('y', r.shift || 0)
      .attr('font-size', r.size).attr('font-style', r.it ? 'italic' : 'normal')
      .attr('fill', color).text(r.t);
    const w = t.node().getComputedTextLength();
    if (r.over) {
      g.append('line').attr('x1', px + w * 0.12).attr('x2', px + w * 1.1)
        .attr('y1', (r.shift || 0) - r.size * 0.8).attr('y2', (r.shift || 0) - r.size * 0.8)
        .attr('stroke', color).attr('stroke-width', r.size * 0.055);
    }
    if (r.at !== undefined) { cx = Math.max(cx, px + w); }
    else if (r.stack) { stackStart = cx; stackW = w + (r.dx || 0); }
    else if (stackStart !== null) { cx = stackStart + Math.max(stackW, w + (r.dx || 0)); stackStart = null; }
    else cx = px + w;
  });
  const ox = anchor === 'middle' ? x - cx / 2 : anchor === 'end' ? x - cx : x;
  g.attr('transform', `translate(${ox},${y})`);
  return {g, width: cx, x0: ox};
}

panels.forEach((pdata, idx) => {
  const r = Math.floor(idx / 6), c = idx % 6;
  const x0 = L.left + c * L.colStep, y0 = L.top + r * L.rowStep;
  const xs = d3.scaleLinear().domain(colDomains[c]).range([x0, x0 + L.pw]);
  const ys = d3.scaleLinear().domain([-1, 1]).range([y0 + L.ph, y0]);
  const g = svg.append('g');

  // grid
  g.append('g').selectAll('line').data(colTicks[c]).join('line')
    .attr('x1', d => xs(d)).attr('x2', d => xs(d)).attr('y1', y0).attr('y2', y0 + L.ph)
    .attr('stroke', '#dcdcdc').attr('stroke-width', 3.5);
  g.append('g').selectAll('line').data(yTicks).join('line')
    .attr('y1', d => ys(d)).attr('y2', d => ys(d)).attr('x1', x0).attr('x2', x0 + L.pw)
    .attr('stroke', '#dcdcdc').attr('stroke-width', 3.5);

  // curves
  const cid = 'clip' + idx;
  defs.append('clipPath').attr('id', cid).append('rect')
    .attr('x', x0).attr('y', y0).attr('width', L.pw).attr('height', L.ph);
  const cg = g.append('g').attr('clip-path', `url(#${cid})`);
  const line = d3.line().x(d => xs(d[1])).y(d => ys(d[0]));
  pdata.forEach((s, si) => {
    cg.append('path').attr('d', line(s)).attr('fill', 'none')
      .attr('stroke', seriesColors[si]).attr('stroke-width', si === 3 ? 13 : 12)
      .attr('stroke-linejoin', 'round').attr('stroke-linecap', 'round');
  });
  // zero line
  cg.append('line').attr('x1', x0).attr('x2', x0 + L.pw).attr('y1', ys(0)).attr('y2', ys(0))
    .attr('stroke', '#000').attr('stroke-width', 8).attr('stroke-dasharray', '7,6');

  // axes (ticks inward on all sides)
  const styleAxis = sel => {
    sel.attr('font-family', null);
    sel.select('.domain').remove();
    sel.selectAll('.tick line').attr('stroke', AX).attr('stroke-width', 4);
    sel.selectAll('.tick text').attr('fill', AX).attr('font-size', 64);
  };
  g.append('g').attr('transform', `translate(0,${y0 + L.ph})`)
    .call(d3.axisBottom(xs).tickValues(colTicks[c]).tickSizeInner(-13).tickSizeOuter(0).tickPadding(45)
      .tickFormat((d, i) => r === 3 ? colTickLabels[c][i] : ''))
    .call(styleAxis);
  g.append('g').attr('transform', `translate(0,${y0})`)
    .call(d3.axisTop(xs).tickValues(colTicks[c]).tickSizeInner(-13).tickSizeOuter(0).tickFormat(''))
    .call(styleAxis);
  g.append('g').attr('transform', `translate(${x0},0)`)
    .call(d3.axisLeft(ys).tickValues(yTicks).tickSizeInner(-12).tickSizeOuter(0).tickPadding(35)
      .tickFormat((d, i) => c === 0 ? yTickLabels[i] : ''))
    .call(styleAxis);
  g.append('g').attr('transform', `translate(${x0 + L.pw},0)`)
    .call(d3.axisRight(ys).tickValues(yTicks).tickSizeInner(-12).tickSizeOuter(0).tickFormat(''))
    .call(styleAxis);

  // box
  g.append('rect').attr('x', x0).attr('y', y0).attr('width', L.pw).attr('height', L.ph)
    .attr('fill', 'none').attr('stroke', AX).attr('stroke-width', 4);

  // panel letter
  g.append('text').attr('x', x0 + L.pw - 22).attr('y', y0 + 67).attr('text-anchor', 'end')
    .attr('font-size', 66).attr('fill', '#000').text('(' + panelLetters[idx] + ')');
});

// row titles and y labels
rowTags.forEach((tag, r) => {
  const y0 = L.top + r * L.rowStep;
  const tagPart = rich(svg, [{t: tag, size: 68}], L.left + 3, y0 - 37, 'start', '#000');
  rich(svg, [
    {t: 'M', it: true, size: 68, at: 0},
    {t: '=', size: 68, at: 84},
    {t: rowMach[r] + ',', size: 68, at: 148},
    {t: 'T', it: true, size: 74, over: true, at: 262},
    {t: '*', size: 42, shift: -30, at: 311},
    {t: '2', size: 42, shift: 17, at: 311},
    {t: '-', size: 68, at: 347},
    {t: 'T', it: true, size: 74, over: true, at: 371},
    {t: '*', size: 42, shift: -30, at: 420},
    {t: '7', size: 42, shift: 17, at: 420}
  ], L.left + 3 + tagPart.width + 30, y0 - 37, 'start', '#000');

  const yl = svg.append('g').attr('transform', `translate(96,${y0 + L.ph / 2}) rotate(-90)`);
  rich(yl, [
    {t: 'x', it: true, size: 84},
    {t: '1', size: 58, shift: 15, dx: 2},
    {t: '/', size: 84, dx: 5},
    {t: 'λ', it: true, size: 84, dx: 5}
  ], 0, 0, 'middle', AX);
});

// x-axis labels
colIndex.forEach((k, c) => {
  const cx = L.left + c * L.colStep + L.pw / 2;
  const yb = L.top + 3 * L.rowStep + L.ph + 180;
  const lab = rich(svg, [
    {t: 'T', it: true, size: 84, over: true},
    {t: k, size: 56, shift: 17, dx: 3},
    {t: '(', size: 84, dx: 3},
    {t: 'λ', it: true, size: 84, dx: 1},
    {t: '/', size: 84, dx: 4},
    {t: 'g', it: true, size: 84, dx: 4},
    {t: ')', size: 84, dx: 3}
  ], cx, yb, 'middle', AX);
  if (c === 5) {
    rich(svg, [
      {t: '×10', size: 50, shift: 12},
      {t: '-6', size: 40, shift: -22, dx: 2}
    ], lab.x0 + lab.width + 4, yb, 'start', AX);
  }
});

// legend
const legX = [1975, 2487, 3014, 3542];
seriesTimes.forEach((t, i) => {
  svg.append('line').attr('x1', legX[i]).attr('x2', legX[i] + 250).attr('y1', 50).attr('y2', 50)
    .attr('stroke', seriesColors[i]).attr('stroke-width', i === 3 ? 12 : 11);
  rich(svg, [
    {t: 't', it: true, size: 64},
    {t: '*', size: 42, shift: -26, dx: 2},
    {t: '=', size: 64, dx: 18},
    {t: t, size: 64, dx: 18}
  ], legX[i] + 275, 70, 'start', '#000');
});
</script></body></html>
